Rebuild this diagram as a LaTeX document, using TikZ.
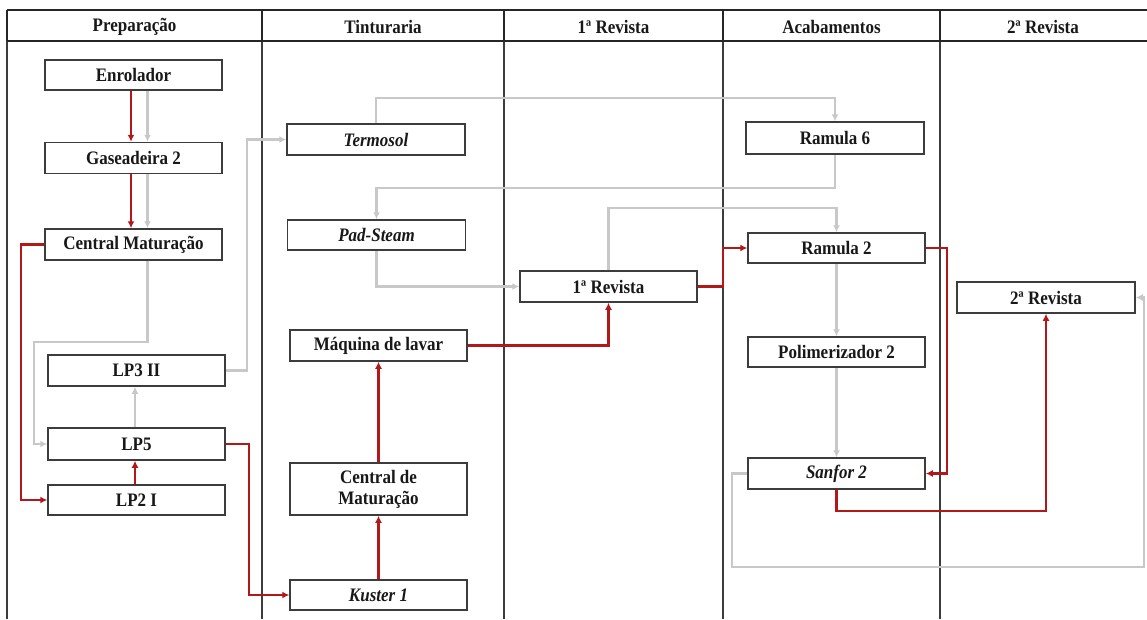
\documentclass[tikz,border=0pt]{standalone}
\usepackage{fontspec}
\setmainfont{Liberation Serif}
\usetikzlibrary{arrows.meta}
\definecolor{flowred}{RGB}{178,24,24}
\definecolor{flowgray}{RGB}{200,200,200}
\definecolor{rulegray}{RGB}{60,60,60}
\definecolor{inkgray}{RGB}{24,24,24}
% slightly tall lettering
\newcommand{\tallt}[1]{\scalebox{1}[1.12]{#1}}
\tikzset{
  stepbox/.style={draw=rulegray, line width=1.5pt, fill=white, inner sep=0pt,
    minimum width=177pt, minimum height=31pt, align=center, text=inkgray,
    font=\bfseries\fontsize{17}{21}\selectfont},
  itbox/.style={stepbox, font=\bfseries\itshape\fontsize{17}{21}\selectfont},
  headtxt/.style={text=inkgray, font=\bfseries\fontsize{17}{21}\selectfont},
  redflow/.style={draw=flowred, line width=2.2pt, -{Latex[length=7pt,width=7pt]}},
  grayflow/.style={draw=flowgray, line width=2.2pt, -{Latex[length=7pt,width=7pt]}},
  lane/.style={draw=rulegray, line width=1.3pt},
  headrule/.style={draw=black!85, line width=1.8pt}
}
\begin{document}
\begin{tikzpicture}[x=1pt,y=-1pt]
\useasboundingbox (0,0) rectangle (1147,619);

% swimlane grid
\draw[lane] (7,41) -- (7,619);
\foreach \xx in {262,504,723,940}{\draw[lane] (\xx,41) -- (\xx,619);}
\draw[headrule] (7,10) -- (1147,10);
\draw[headrule] (7,41) -- (1147,41);
\draw[headrule] (7,10) -- (7,41);
\foreach \xx in {262,504,723,940}{\draw[headrule] (\xx,10) -- (\xx,41);}

% lane titles
\node[headtxt] (h1) at (134.5,27) {\tallt{Preparação}};
\node[headtxt] (h2) at (383,27) {\tallt{Tinturaria}};
\node[headtxt] (h3) at (613.5,27) {\tallt{1ª Revista}};
\node[headtxt] (h4) at (831.5,27) {\tallt{Acabamentos}};
\node[headtxt] (h5) at (1043,27) {\tallt{2ª Revista}};

% Preparação
\node[stepbox, minimum height=30pt] (enr) at (133.5,75) {\tallt{Enrolador}};
\node[stepbox] (gas) at (133.5,158) {\tallt{Gaseadeira 2}};
\node[stepbox] (cmat) at (133.5,244.5) {\tallt{Central Maturação}};
\node[stepbox] (lp3) at (136.5,370.5) {\tallt{LP3 II}};
\node[stepbox, minimum height=32pt] (lp5) at (136.5,444) {\tallt{LP5}};
\node[stepbox, minimum height=30pt] (lp2) at (136.5,500) {\tallt{LP2 I}};

% Tinturaria
\node[itbox, minimum width=178pt] (term) at (376,139.5) {\tallt{Termosol}};
\node[itbox, minimum width=178pt, minimum height=30pt] (pad) at (376.5,235) {\tallt{Pad-Steam}};
\node[stepbox] (maq) at (378.5,345.5) {\tallt{Máquina de lavar}};
\node[stepbox, minimum height=52pt] (cdm) at (378.5,489) {\tallt{Central de}\\\tallt{Maturação}};
\node[itbox, minimum height=30pt] (kus) at (378.5,595) {\tallt{Kuster 1}};

% 1ª Revista
\node[stepbox] (rev1) at (608.5,286.5) {\tallt{1ª Revista}};

% Acabamentos
\node[stepbox, minimum width=178pt, minimum height=32pt] (ram6) at (835,138) {\tallt{Ramula 6}};
\node[stepbox, minimum height=30pt] (ram2) at (836.5,248) {\tallt{Ramula 2}};
\node[stepbox, minimum height=30pt] (pol) at (836.5,352) {\tallt{Polimerizador 2}};
\node[itbox] (san) at (836.5,473.5) {\tallt{Sanfor 2}};

% 2ª Revista
\node[stepbox, minimum width=178pt] (rev2) at (1046,297.5) {\tallt{2ª Revista}};

% red route
\draw[redflow] ([xshift=-2.5pt]enr.south) -- ([xshift=-2.5pt]gas.north);
\draw[redflow] ([xshift=-2.5pt]gas.south) -- ([xshift=-2.5pt]cmat.north);
\draw[redflow] (cmat.west) -- ++(-23,0) |- (lp2.west);
\draw[redflow] ([xshift=-1.5pt]lp2.north) -- ([xshift=-1.5pt]lp5.south);
\draw[redflow] (lp5.east) -- ++(23,0) |- (kus.west);
\draw[redflow] (kus.north) -- (cdm.south);
\draw[redflow] (cdm.north) -- (maq.south);
\draw[redflow] (maq.east) -| (rev1.south);
\draw[redflow] (rev1.east) -- ++(25,0) |- (ram2.west);
\draw[redflow] (ram2.east) -- ++(21,0) |- (san.east);
\draw[redflow] (san.south) -- ++(0,21) -| (rev2.south);

% gray route
\draw[grayflow] ([xshift=14pt]enr.south) -- ([xshift=14pt]gas.north);
\draw[grayflow] ([xshift=14pt]gas.south) -- ([xshift=14pt]cmat.north);
\draw[grayflow] ([xshift=14pt]cmat.south) |- (34,342) |- (lp5.west);
\draw[grayflow] ([xshift=-1.5pt]lp5.north) -- ([xshift=-1.5pt]lp3.south);
\draw[grayflow] (lp3.east) -- ++(21,0) |- (term.west);
\draw[grayflow] (term.north) -- ++(0,-25) -| (ram6.north);
\draw[grayflow] (ram6.south) -- ++(0,33) -| (pad.north);
\draw[grayflow] (pad.south) |- (rev1.west);
\draw[grayflow] (rev1.north) -- ++(0,-62) -| (ram2.north);
\draw[grayflow] (ram2.south) -- (pol.north);
\draw[grayflow] (pol.south) -- (san.north);
\draw[grayflow] (san.west) -- ++(-15,0) |- (1144,567) |- (rev2.east);
\end{tikzpicture}
\end{document}
